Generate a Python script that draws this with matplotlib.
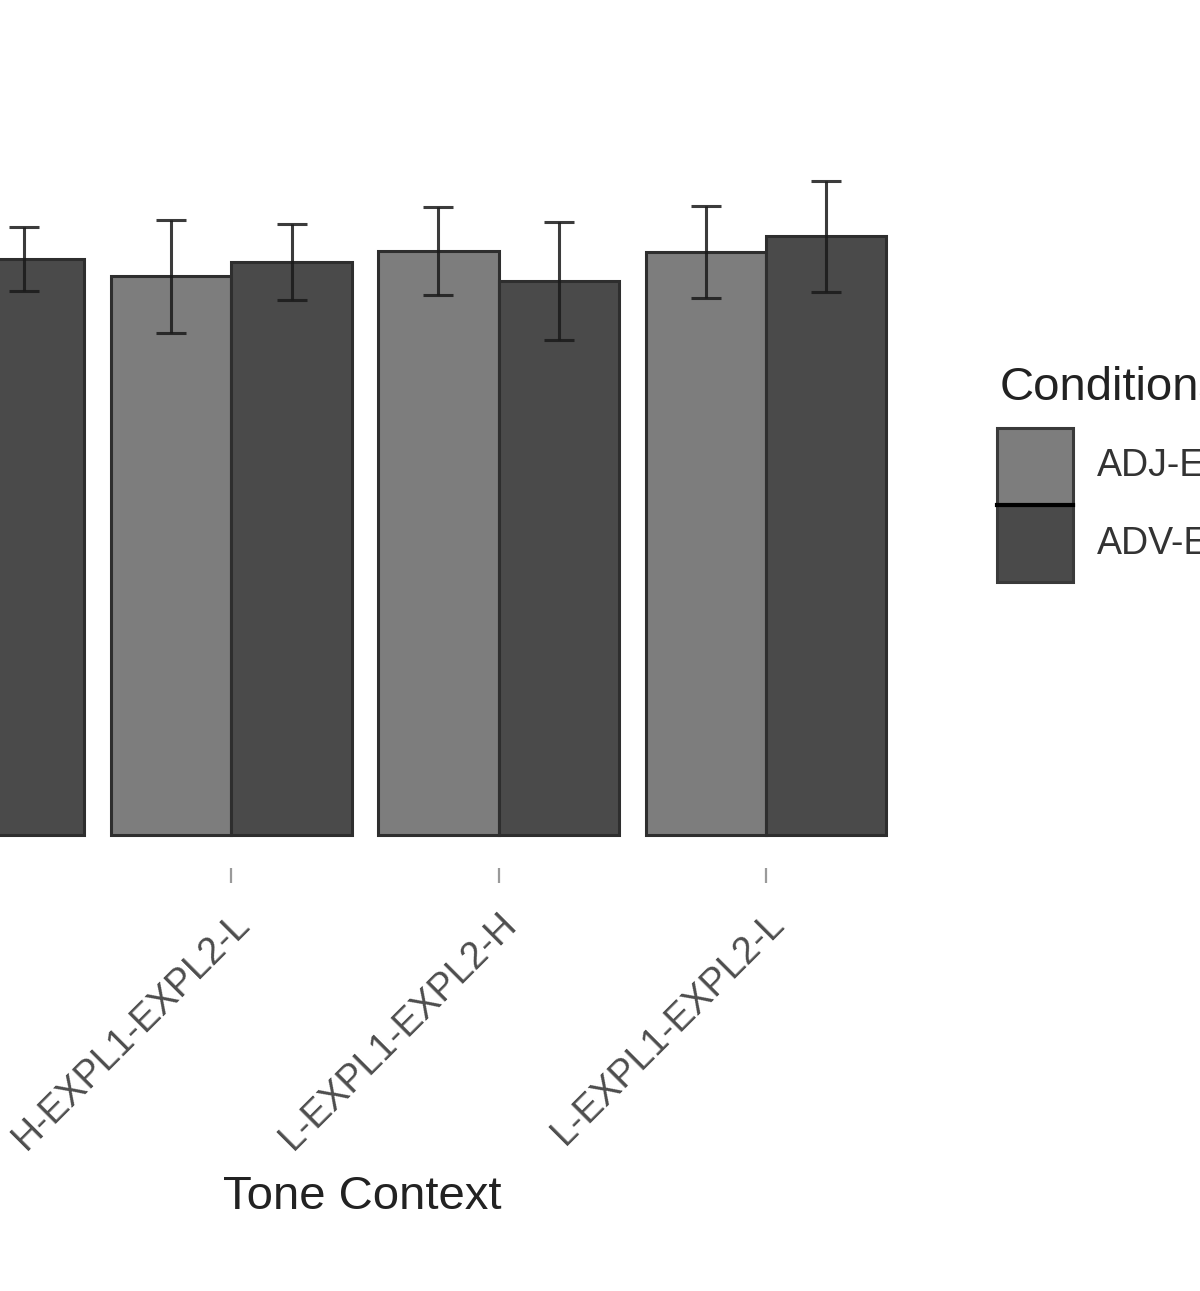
import numpy as np
import matplotlib
matplotlib.use('Agg')
import matplotlib.pyplot as plt
from matplotlib.patches import Rectangle
from matplotlib.lines import Line2D

plt.rcParams['font.family'] = ['Liberation Sans', 'DejaVu Sans']

contexts = ['H-EXPL1-EXPL2-H', 'H-EXPL1-EXPL2-L', 'L-EXPL1-EXPL2-H', 'L-EXPL1-EXPL2-L']
conditions = ['ADJ-EXPL', 'ADV-EXPL']
adj_mean = [5.65, 5.60, 5.85, 5.84]
adj_se = [0.40, 0.565, 0.44, 0.46]
adv_mean = [5.77, 5.74, 5.55, 6.00]
adv_se = [0.32, 0.38, 0.59, 0.555]

W, H = 1200, 1291
fig = plt.figure(figsize=(W / 100, H / 100), dpi=100)

# panel runs past the left edge of the picture (cropped like the reference)
left, right, bottom, top = -196, 926, 868, 148
ax = fig.add_axes([left / W, 1 - bottom / H, (right - left) / W, (bottom - top) / H])

x = np.arange(1, len(contexts) + 1)
bw = 0.45
fills = ['#7d7d7d', '#4a4a4a']
for i, (m, se) in enumerate([(adj_mean, adj_se), (adv_mean, adv_se)]):
    xs = x - bw / 2 + i * bw
    ax.bar(xs, m, bw, color=fills[i], edgecolor='#2e2e2e', linewidth=2.2, zorder=2)
    ax.errorbar(xs, m, yerr=se, fmt='none', ecolor='#1a1a1a', elinewidth=2.2,
                capsize=10.5, capthick=2.2, alpha=0.85, zorder=3)

ymax = max(max(np.add(adj_mean, adj_se)), max(np.add(adv_mean, adv_se)))
ax.set_xlim(0.4, len(contexts) + 0.6)
ax.set_ylim(-0.05 * ymax, 1.05 * ymax)
for s in ax.spines.values():
    s.set_visible(False)
ax.set_yticks([])
ax.set_xticks(x)
ax.set_xticklabels(contexts, rotation=45, ha='right', va='top',
                   rotation_mode='anchor', fontsize=27, color='#4d4d4d')
ax.tick_params(axis='x', length=11, width=1.6, color='#9a9a9a', pad=16)

fig.text(362 / W, 1 - 1197 / H, 'Tone Context', fontsize=34, color='#222222',
         ha='center', va='center')

# legend (cut off at the right edge)
fig.text(1000 / W, 1 - 388 / H, 'Conditions', fontsize=34, color='#222222',
         ha='left', va='center')
kx0, kx1 = 997, 1073
rows = [(428, 505), (505, 582)]
for (y0, y1), c, lab in zip(rows, fills, conditions):
    fig.patches.append(Rectangle((kx0 / W, 1 - y1 / H), (kx1 - kx0) / W, (y1 - y0) / H,
                                 transform=fig.transFigure, facecolor=c,
                                 edgecolor='#3a3a3a', linewidth=2.2))
    fig.text(1097 / W, 1 - (y0 + y1) / 2 / H, lab, fontsize=27, color='#333333',
             ha='left', va='center')
fig.lines.append(Line2D([kx0 / W, kx1 / W], [1 - 505 / H, 1 - 505 / H],
                        transform=fig.transFigure, color='black', linewidth=3))

fig.savefig('out.png', dpi=100)
